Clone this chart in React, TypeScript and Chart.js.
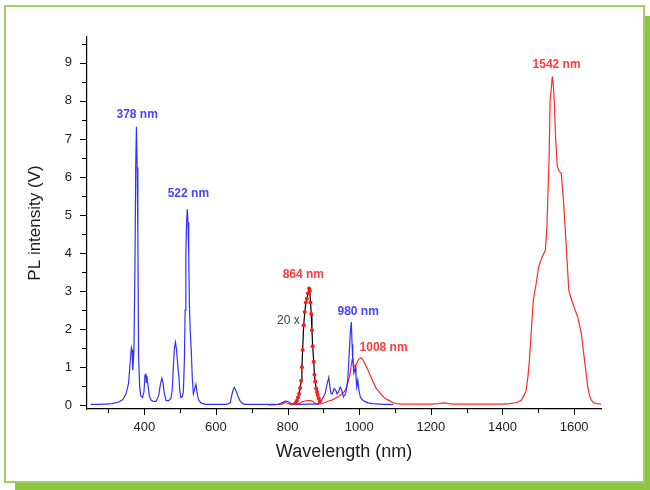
import { useEffect, useRef } from "react";
import { Chart, registerables } from "chart.js";

Chart.register(...registerables);

// blue spectrum (nm, V)
const blueNm = [
  250, 270, 290, 310, 330, 340, 349, 356, 361, 364, 366, 368, 371, 374, 376, 378, 380, 382, 384, 387,
  390, 395, 399, 402, 404, 406, 407, 410, 414, 419, 425, 433, 440, 445, 449, 452, 456, 461, 468, 474,
  478, 481, 484, 487, 490, 493, 496, 499, 502, 506, 509, 512, 514, 516, 518, 520, 522, 524, 526, 528,
  531, 534, 537, 541, 544, 547, 551, 558, 570, 600, 630, 640, 644, 648, 651, 654, 658, 663, 668, 675,
  682, 700, 720, 740, 760, 775, 785, 791, 796, 802, 810, 824, 840, 860, 880, 889, 894, 898, 905, 910,
  915, 918, 921, 925, 930, 935, 938, 942, 947, 951, 956, 962, 968, 972, 975, 978, 980, 982, 985, 989,
  991, 993, 996, 999, 1003, 1008, 1015, 1025, 1037, 1055, 1075, 1095,
];
const blueV = [
  0.02, 0.02, 0.03, 0.04, 0.09, 0.15, 0.3, 0.57, 1.18, 1.52, 1.45, 0.92, 1.4, 3.8, 6.26, 7.32, 6.25, 4.4, 1.3, 0.5,
  0.25, 0.2, 0.35, 0.8, 0.83, 0.6, 0.78, 0.55, 0.25, 0.13, 0.1, 0.1, 0.25, 0.55, 0.71, 0.6, 0.3, 0.12, 0.12, 0.17,
  0.4, 1.0, 1.5, 1.66, 1.45, 1.1, 0.8, 0.4, 0.2, 0.22, 0.35, 1.2, 2.5, 4.0, 4.8, 5.15, 4.8, 3.95, 2.6, 2.0,
  1.45, 0.7, 0.3, 0.45, 0.55, 0.35, 0.15, 0.06, 0.02, 0.02, 0.02, 0.06, 0.26, 0.4, 0.47, 0.42, 0.33, 0.2, 0.1, 0.04,
  0.02, 0.02, 0.02, 0.02, 0.02, 0.03, 0.06, 0.1, 0.11, 0.09, 0.04, 0.03, 0.02, 0.03, 0.03, 0.05, 0.12, 0.18, 0.31, 0.55,
  0.73, 0.5, 0.31, 0.3, 0.44, 0.38, 0.3, 0.35, 0.48, 0.4, 0.22, 0.3, 0.66, 1.36, 1.9, 2.19, 1.6, 1.16, 0.85, 1.0,
  0.75, 0.48, 0.66, 0.4, 0.22, 0.15, 0.1, 0.06, 0.04, 0.03, 0.02, 0.02,
];

// red spectrum (nm, V)
const redNm = [
  745, 760, 775, 785, 790, 795, 800, 808, 820, 833, 840, 848, 856, 864, 870, 876, 885, 895, 905, 915,
  925, 935, 945, 952, 959, 966, 970, 974, 977, 980, 982, 985, 989, 993, 998, 1004, 1010, 1017, 1024, 1030,
  1038, 1047, 1056, 1065, 1075, 1084, 1093, 1103, 1120, 1150, 1180, 1200, 1220, 1235, 1245, 1260, 1300, 1350, 1400, 1420,
  1440, 1452, 1460, 1466, 1471, 1475, 1480, 1486, 1494, 1501, 1511, 1520, 1524, 1527, 1530, 1533, 1536, 1539, 1542, 1545,
  1548, 1553, 1558, 1564, 1570, 1574, 1578, 1585, 1590, 1596, 1603, 1610, 1620, 1629, 1634, 1638, 1643, 1648, 1655, 1665,
  1675,
];
const redV = [
  0.01, 0.01, 0.02, 0.03, 0.06, 0.07, 0.05, 0.02, 0.02, 0.04, 0.09, 0.11, 0.12, 0.12, 0.1, 0.05, 0.03, 0.04, 0.07, 0.11,
  0.14, 0.19, 0.25, 0.3, 0.36, 0.5, 0.65, 0.8, 1.0, 1.2, 1.24, 1.05, 1.0, 1.1, 1.2, 1.25, 1.2, 1.07, 0.93, 0.8,
  0.63, 0.45, 0.35, 0.24, 0.16, 0.12, 0.07, 0.04, 0.03, 0.03, 0.03, 0.03, 0.04, 0.06, 0.05, 0.03, 0.03, 0.03, 0.03, 0.04,
  0.07, 0.13, 0.25, 0.39, 0.75, 1.18, 1.89, 2.76, 3.2, 3.64, 3.9, 4.08, 4.69, 5.6, 6.45, 8.03, 8.3, 8.64, 8.4, 7.9,
  7.06, 6.27, 6.15, 6.1, 5.39, 4.8, 4.17, 3.03, 2.85, 2.68, 2.5, 2.32, 1.89, 1.18, 0.8, 0.48, 0.25, 0.13, 0.06, 0.04,
  0.03,
];

// 864 nm band, magnified 20x
const zoomNm = [
  822, 826, 829, 832, 835, 838, 840, 842, 845, 848, 851, 854, 857, 860, 862, 864, 866, 868, 870, 873,
  875, 877, 880, 882, 884, 887, 890,
];
const zoomV = [
  0.06, 0.12, 0.2, 0.3, 0.45, 0.64, 1.0, 1.45, 2.1, 2.45, 2.7, 2.8, 2.94, 3.07, 3.0, 2.7, 2.4, 1.97, 1.55, 1.14,
  0.8, 0.62, 0.44, 0.35, 0.27, 0.18, 0.1,
];

// peak labels: text, nm, V, colour
const labelText = ["378 nm", "522 nm", "864 nm", "20 x", "980 nm", "1008 nm", "1542 nm"];
const labelNm = [380, 523, 844, 802, 997, 1068, 1551];
const labelV = [7.65, 5.55, 3.42, 2.22, 2.46, 1.51, 8.94];
const labelColor = ["#4646ff", "#4646ff", "#ff3b3b", "#404040", "#4646ff", "#ff3b3b", "#ff3b3b"];

const FONT = "Arial, 'Liberation Sans', sans-serif";

const pairs = (xs: number[], ys: number[]) => xs.map((x, i) => ({ x, y: ys[i] }));

const tickMarks = {
  id: "tickMarks",
  afterDraw(chart: any) {
    const { ctx } = chart;
    const xs = chart.scales.x;
    const ys = chart.scales.y;
    ctx.save();
    ctx.strokeStyle = "#000";
    ctx.lineWidth = 1;
    ctx.beginPath();
    xs.ticks.forEach((t: any) => {
      const px = Math.round(xs.getPixelForValue(t.value)) + 0.5;
      const len = t.value % 200 === 0 ? 6 : 4;
      ctx.moveTo(px, xs.top);
      ctx.lineTo(px, xs.top + len);
    });
    ys.ticks.forEach((t: any) => {
      const py = Math.round(ys.getPixelForValue(t.value)) + 0.5;
      const len = Number.isInteger(t.value) ? 7 : 5;
      ctx.moveTo(ys.right - len, py);
      ctx.lineTo(ys.right, py);
    });
    ctx.stroke();
    ctx.restore();
  },
};

const peakLabels = {
  id: "peakLabels",
  afterDatasetsDraw(chart: any) {
    const { ctx } = chart;
    const xs = chart.scales.x;
    const ys = chart.scales.y;
    ctx.save();
    ctx.textAlign = "center";
    ctx.textBaseline = "middle";
    labelText.forEach((t, i) => {
      ctx.font = (t === "20 x" ? "" : "bold ") + "12px " + FONT;
      ctx.fillStyle = labelColor[i];
      ctx.fillText(t, xs.getPixelForValue(labelNm[i]), ys.getPixelForValue(labelV[i]));
    });
    ctx.restore();
  },
};

const App = () => {
  const chartRef = useRef<HTMLCanvasElement | null>(null);

  useEffect(() => {
    if (!chartRef.current) return;
    const ctx = chartRef.current.getContext("2d");
    if (!ctx) return;

    const chartInstance = new Chart(ctx, {
      type: "line",
      data: {
        datasets: [
          {
            label: "20 x",
            data: pairs(zoomNm, zoomV),
            borderColor: "#000",
            borderWidth: 1.2,
            pointRadius: 2,
            pointBackgroundColor: "#ff1a1a",
            pointBorderColor: "#ff1a1a",
            pointBorderWidth: 0,
          },
          {
            label: "blue",
            data: pairs(blueNm, blueV),
            borderColor: "#3030ff",
            borderWidth: 1.2,
            pointRadius: 0,
          },
          {
            label: "red",
            data: pairs(redNm, redV),
            borderColor: "#ff2a2a",
            borderWidth: 1.2,
            pointRadius: 0,
          },
        ],
      },
      options: {
        responsive: true,
        maintainAspectRatio: false,
        animation: false,
        parsing: false,
        layout: { padding: { left: 0, top: 37, right: 49, bottom: 0 } },
        plugins: {
          legend: { display: false },
          tooltip: { enabled: false },
        },
        scales: {
          x: {
            type: "linear",
            min: 240,
            max: 1675,
            afterFit: (s: any) => {
              s.height = 81;
            },
            border: { display: true, color: "#000", width: 1.2 },
            grid: { drawOnChartArea: false, tickColor: "transparent", tickLength: 6 },
            ticks: {
              stepSize: 100,
              includeBounds: false,
              autoSkip: false,
              maxRotation: 0,
              padding: 5,
              color: "#222",
              font: { family: FONT, size: 13 },
              callback: (v: any) => (Number(v) % 200 === 0 ? String(v) : ""),
            },
            title: {
              display: true,
              text: "Wavelength (nm)",
              color: "#1a1a1a",
              font: { family: FONT, size: 18 },
              padding: { top: 0, bottom: 27 },
            },
          },
          y: {
            type: "linear",
            min: -0.1,
            max: 9.68,
            afterFit: (s: any) => {
              s.width = 87;
            },
            border: { display: true, color: "#000", width: 1.2 },
            grid: { drawOnChartArea: false, tickColor: "transparent", tickLength: 8 },
            ticks: {
              stepSize: 0.5,
              includeBounds: false,
              autoSkip: false,
              padding: 7,
              color: "#222",
              font: { family: FONT, size: 13 },
              callback: (v: any) => (Number.isInteger(Number(v)) ? String(v) : ""),
            },
            title: {
              display: true,
              text: "PL intensity (V)",
              color: "#1a1a1a",
              font: { family: FONT, size: 17 },
              padding: { top: 25, bottom: 0 },
            },
          },
        },
      },
      plugins: [tickMarks, peakLabels],
    });

    return () => {
      chartInstance.destroy();
    };
  }, []);

  return (
    <div
      style={{
        position: "fixed",
        left: 0,
        top: 0,
        width: 650,
        height: 490,
        overflow: "hidden",
        background: "#fff",
      }}
    >
      <div
        style={{
          position: "absolute",
          left: 4,
          top: 5,
          width: 641,
          height: 478,
          boxSizing: "border-box",
          border: "2px solid #9fd063",
          boxShadow: "11px 11px 0 0 #8cc540",
          background: "#fff",
        }}
      />
      <div style={{ position: "absolute", left: 0, top: 0, width: 650, height: 490 }}>
        <canvas ref={chartRef}></canvas>
      </div>
    </div>
  );
};

export default App;
